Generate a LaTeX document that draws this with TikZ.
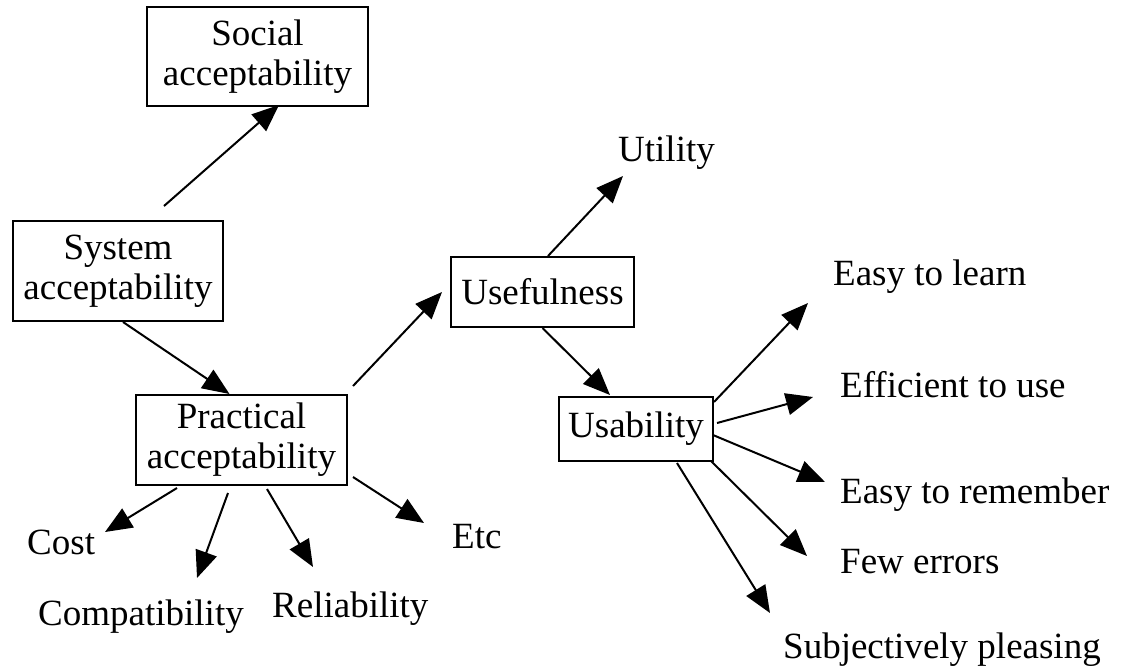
\documentclass[tikz,border=0pt]{standalone}
\usepackage{fontspec}
\setmainfont{Liberation Serif}
\usetikzlibrary{arrows.meta,calc}
\begin{document}
\begin{tikzpicture}[x=1pt,y=-1pt,
  txt/.style={font=\fontsize{37pt}{40pt}\selectfont},
  box/.style={txt,draw,line width=2pt,inner sep=0pt,align=center},
  lbl/.style={txt,inner sep=0pt,anchor=base west},
  arr/.style={line width=2pt,-{Triangle[length=27pt,width=22pt]}}]
\useasboundingbox (0,0) rectangle (1147,667);
% boxes
\node[box,minimum width=221pt,minimum height=99pt] (soc) at (257.5,56.5) {Social\\acceptability};
\node[box,minimum width=210pt,minimum height=100pt] (sys) at (118,271) {System\\acceptability};
\node[box,minimum width=211pt,minimum height=90pt] (prac) at (241.5,440) {Practical\\acceptability};
\node[box,minimum width=183pt,minimum height=70pt] (usef) at (542.5,292) {Usefulness};
\node[box,minimum width=154pt,minimum height=64pt] (usab) at (636,429) {Usability};
% leaf labels
\node[lbl] (util) at (618,161) {Utility};
\node[lbl] (learn) at (833,285) {Easy to learn};
\node[lbl] (effic) at (840,397) {Efficient to use};
\node[lbl] (remem) at (840,503) {Easy to remember};
\node[lbl] (few) at (840,573) {Few errors};
\node[lbl] (subj) at (783,658) {Subjectively pleasing};
\node[lbl] (cost) at (27,554) {Cost};
\node[lbl] (compat) at (38,625) {Compatibility};
\node[lbl] (reli) at (272,617) {Reliability};
\node[lbl] (etc) at (452,548) {Etc};
% arrow tips (free ends)
\coordinate (tUtil) at (623,176);
\coordinate (tLearn) at (808,303);
\coordinate (tEffic) at (813,397);
\coordinate (tRemem) at (825,482);
\coordinate (tFew) at (807,556);
\coordinate (tSubj) at (770,613);
\coordinate (tCost) at (105,532);
\coordinate (tCompat) at (197,578);
\coordinate (tReli) at (313,567);
\coordinate (tEtc) at (424,523);
% connectors
\draw[arr] ($(sys.north)+(46,-14)$) -- ($(soc.south)+(21.5,-2)$);
\draw[arr] ($(sys.south)+(5,0)$) -- ($(prac.north)+(-12,0)$);
\draw[arr] ($(prac.north east)+(5,-8)$) -- ($(usef.west)+(-8,0)$);
\draw[arr] ($(usef.north)+(5.5,0)$) -- (tUtil);
\draw[arr] (usef.south) -- ($(usab.north)+(-26,-1)$);
\draw[arr] ($(usab.north east)+(0,6)$) -- (tLearn);
\draw[arr] ($(usab.east)+(3,-6)$) -- (tEffic);
\draw[arr] ($(usab.east)+(-1,6)$) -- (tRemem);
\draw[arr] ($(usab.south east)+(-3,-1)$) -- (tFew);
\draw[arr] ($(usab.south)+(41,1)$) -- (tSubj);
\draw[arr] ($(prac.south)+(-64.5,2)$) -- (tCost);
\draw[arr] ($(prac.south)+(-13.5,7)$) -- (tCompat);
\draw[arr] ($(prac.south)+(25.5,3)$) -- (tReli);
\draw[arr] ($(prac.east)+(5,37)$) -- (tEtc);
\end{tikzpicture}
\end{document}
